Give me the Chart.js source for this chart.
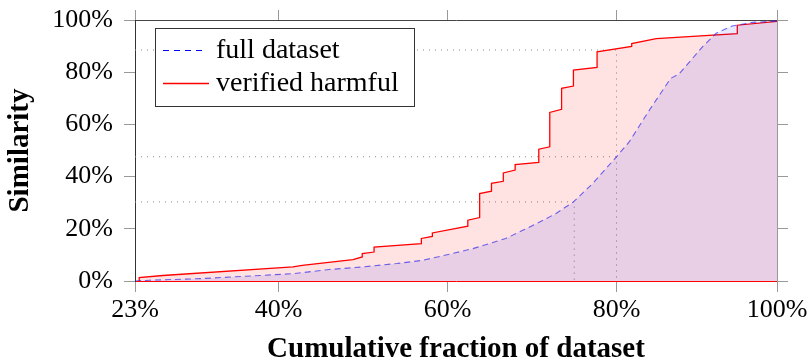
<!DOCTYPE html>
<html>
<head>
<meta charset="utf-8">
<script src="https://cdn.jsdelivr.net/npm/chart.js@4.4.1/dist/chart.umd.min.js"></script>
<style>
  html, body { margin: 0; padding: 0; background: #fff; }
  canvas { display: block; }
</style>
</head>
<body>
<canvas id="simChart" width="808" height="362"></canvas>
<script>
// data
var fullX = [23, 24.7, 30.7, 36, 41.7, 46, 50, 54, 57, 59.2, 63, 66.9, 68.9, 70.9, 72.8, 74.9, 77.2, 80, 81.5, 83.9, 86.4, 87.4, 90.2, 91.8, 93.7, 96.1, 99];
var fullY = [0, 0.3, 0.9, 1.8, 2.8, 4.4, 5.4, 6.7, 7.9, 9.5, 12.4, 16.3, 19.4, 22.6, 25.8, 30.3, 37.4, 47.6, 53.3, 65.5, 77.6, 79.3, 89.8, 94.9, 97.7, 99.1, 99.6];

var harmX = [23.5, 23.5, 26.3, 41.7, 42.8, 48.8, 49.9, 49.9, 51.3, 51.3, 56.9, 56.9, 58.2, 58.2, 62.4, 62.4, 63.8, 63.8, 65.2, 65.2, 66.6, 66.6, 68.0, 68.0, 70.8, 70.8, 72.1, 72.1, 73.5, 73.5, 74.9, 74.9, 77.7, 77.7, 81.8, 81.8, 84.7, 94.3, 94.3, 99];
var harmY = [0, 1.3, 2.1, 5.4, 6.0, 8.2, 9.2, 10.5, 11.1, 13.0, 14.3, 16.3, 17.1, 18.4, 21.0, 23.3, 24.3, 33.5, 34.4, 37.4, 38.2, 41.4, 42.5, 44.6, 45.4, 50.5, 51.4, 64.6, 65.8, 73.8, 74.7, 80.8, 81.8, 87.8, 89.9, 91.0, 92.9, 94.8, 98.0, 99.5];

// dotted guide lines (x, y) pairs
var guideTopX = [23, 80, 80];
var guideTopY = [88.5, 88.5, 0];
var guideMidX = [23, 80];
var guideMidY = [47.6, 47.6];
var guideLowX = [23, 75, 75];
var guideLowY = [30.3, 30.3, 0];

var xTickValues = [23, 40, 60, 80, 99];
var xTickLabels = ['23%', '40%', '60%', '80%', '100%'];
var seriesNames = ['full dataset', 'verified harmful'];

function pts(xs, ys) {
  return xs.map(function(x, i) { return { x: x, y: ys[i] }; });
}

var serif = "'Liberation Serif', 'Times New Roman', serif";

function guide(xs, ys) {
  return {
    label: '',
    data: pts(xs, ys),
    borderColor: '#8a8a8a',
    borderWidth: 1,
    borderDash: [1, 5],
    pointRadius: 0,
    fill: false
  };
}

// legend box sits inside the plot, top-left
var legendInside = {
  id: 'legendInside',
  afterDraw: function(chart) {
    var c = chart.ctx;
    var bx = 155, by = 28, bw = 259, bh = 78;
    c.save();
    c.fillStyle = '#fff';
    c.fillRect(bx, by, bw, bh);
    c.strokeStyle = '#333';
    c.lineWidth = 1;
    c.strokeRect(bx + 0.5, by + 0.5, bw, bh);

    c.lineWidth = 1.2;
    c.strokeStyle = '#0000ff';
    c.setLineDash([6, 5]);
    c.beginPath();
    c.moveTo(163, 50.5);
    c.lineTo(206, 50.5);
    c.stroke();

    c.setLineDash([]);
    c.lineWidth = 1.4;
    c.strokeStyle = 'rgb(255, 0, 0)';
    c.beginPath();
    c.moveTo(163, 83.5);
    c.lineTo(209, 83.5);
    c.stroke();

    c.fillStyle = '#000';
    c.font = '28px ' + serif;
    c.textBaseline = 'alphabetic';
    c.fillText(seriesNames[0], 216, 58);
    c.fillText(seriesNames[1], 216, 91);
    c.restore();
  }
};

// fixed box sizes, no extra room for overhanging tick labels
function fixH(h) {
  return function(s) { s.height = h; s.paddingLeft = 0; s.paddingRight = 0; };
}
function fixW(w) {
  return function(s) { s.width = w; s.paddingTop = 0; s.paddingBottom = 0; };
}

var ctx = document.getElementById('simChart').getContext('2d');
var simChart = new Chart(ctx, {
  type: 'line',
  data: {
    datasets: [{
      label: seriesNames[0],
      data: pts(fullX, fullY),
      borderColor: 'rgba(50, 40, 235, 0.7)',
      borderWidth: 1.1,
      borderDash: [6, 4],
      backgroundColor: 'rgba(0, 0, 255, 0.09)',
      fill: 'origin',
      pointRadius: 0,
      tension: 0
    }, {
      label: seriesNames[1],
      data: pts(harmX, harmY),
      borderColor: '#ff0000',
      borderWidth: 1.3,
      backgroundColor: 'rgba(255, 0, 0, 0.11)',
      fill: 'origin',
      pointRadius: 0,
      tension: 0
    },
    guide(guideTopX, guideTopY),
    guide(guideMidX, guideMidY),
    guide(guideLowX, guideLowY)]
  },
  options: {
    responsive: false,
    animation: false,
    layout: { padding: 0, autoPadding: false },
    plugins: {
      legend: { display: false },
      tooltip: { enabled: false }
    },
    scales: {
      x: {
        type: 'linear',
        position: 'bottom',
        min: 23,
        max: 99,
        afterBuildTicks: function(s) { s.ticks = xTickValues.map(function(v) { return { value: v }; }); },
        afterFit: fixH(81),
        ticks: {
          callback: function(v, i) { return xTickLabels[i]; },
          font: { family: serif, size: 26 },
          color: '#000',
          padding: 3,
          maxRotation: 0,
          autoSkip: false
        },
        grid: { drawOnChartArea: false, tickLength: 11, color: '#999' },
        border: { color: '#ff0000', width: 1 },
        title: {
          display: true,
          text: 'Cumulative fraction of dataset',
          color: '#000',
          font: { family: serif, size: 29, weight: 'bold', lineHeight: 1 },
          padding: { top: 0, bottom: -2 }
        }
      },
      xTop: {
        type: 'linear',
        position: 'top',
        min: 23,
        max: 99,
        afterBuildTicks: function(s) { s.ticks = xTickValues.map(function(v) { return { value: v }; }); },
        afterFit: fixH(20),
        ticks: { display: false },
        grid: { drawOnChartArea: false, tickLength: 10, color: '#999' },
        border: { color: '#444', width: 1 }
      },
      y: {
        position: 'left',
        min: 0,
        max: 100,
        afterFit: fixW(135),
        ticks: {
          stepSize: 20,
          callback: function(v) { return v + '%'; },
          font: { family: serif, size: 26 },
          color: '#000',
          padding: 11
        },
        grid: { drawOnChartArea: false, tickLength: 11, color: '#999' },
        border: { color: '#333', width: 1 },
        title: {
          display: true,
          text: 'Similarity',
          color: '#000',
          font: { family: serif, size: 29, weight: 'bold', lineHeight: 1 },
          padding: { top: 6, bottom: 0 }
        }
      },
      yRight: {
        position: 'right',
        min: 0,
        max: 100,
        afterFit: fixW(31),
        ticks: { display: false, stepSize: 20 },
        grid: { drawOnChartArea: false, tickLength: 11, color: '#999' },
        border: { color: '#999', width: 1 }
      }
    }
  },
  plugins: [legendInside]
});
</script>
</body>
</html>
